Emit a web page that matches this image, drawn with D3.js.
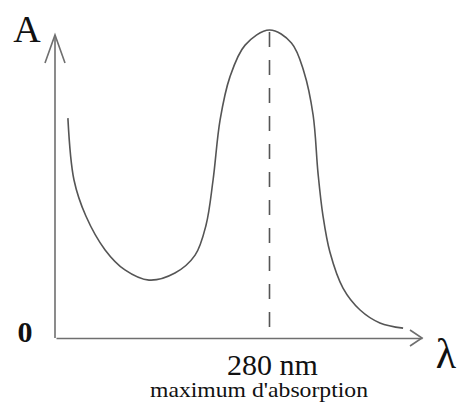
<!DOCTYPE html>
<html>
<head>
<meta charset="utf-8">
<script src="https://cdn.jsdelivr.net/npm/d3@7"></script>
<style>
  html, body { margin: 0; padding: 0; background: #fff; }
  svg { display: block; }
  text { font-family: "Liberation Serif", "Times New Roman", "DejaVu Serif", serif; fill: #111; }
</style>
</head>
<body>
<script>
// Absorption spectrum of a protein: wavelength (nm) vs absorbance (relative)
const wavelengths = [213.9, 215.9, 219.8, 226.1, 232.6, 240.5, 249.0, 255.6, 259.2, 261.5, 263.8, 267.0, 272.0, 280, 287.2, 291.3, 294.3, 295.9, 297.5, 299.8, 304.1, 309.7, 316.2, 323.8];
const absorbance  = [0.714, 0.513, 0.396, 0.286, 0.221, 0.188, 0.211, 0.269, 0.367, 0.513, 0.708, 0.847, 0.951, 1.0, 0.958, 0.864, 0.724, 0.536, 0.399, 0.279, 0.162, 0.091, 0.049, 0.032];
const peakWavelength = [280];
const peakLabels = ["280 nm", "maximum d'absorption"];
const axisLabels = ["A", "0", "λ"];

const W = 462, H = 403;
const x = d3.scaleLinear().domain([210, 330]).range([56, 422]);
const y = d3.scaleLinear().domain([0, 1]).range([338, 30]);
const yTop = 0.984;
const serif = "'Liberation Serif', 'Times New Roman', 'DejaVu Serif', serif";

const svg = d3.select("body").append("svg").attr("width", W).attr("height", H);

const axisColor = "#6f6f6f";

// x axis (no ticks) with open arrowhead
const gx = svg.append("g")
  .attr("transform", `translate(0,${y(0)})`)
  .call(d3.axisBottom(x).tickValues([]).tickSizeOuter(0));
gx.select(".domain").attr("stroke", axisColor).attr("stroke-width", 1.6);

const xEnd = x.range()[1];
svg.append("path")
  .attr("d", `M${xEnd - 12},${y(0) - 8} L${xEnd},${y(0)} L${xEnd - 12},${y(0) + 8}`)
  .attr("fill", "none").attr("stroke", axisColor).attr("stroke-width", 1.6);

// y axis with open arrowhead
const x0 = x(210) - 1;
svg.append("line")
  .attr("x1", x0).attr("x2", x0)
  .attr("y1", y(0)).attr("y2", y(yTop))
  .attr("stroke", axisColor).attr("stroke-width", 1.6);
svg.append("path")
  .attr("d", `M${x0 - 10},${y(yTop) + 28} L${x0},${y(yTop)} L${x0 + 10},${y(yTop) + 28}`)
  .attr("fill", "none").attr("stroke", axisColor).attr("stroke-width", 1.6);

// dashed marker at the absorption maximum
svg.append("line")
  .attr("x1", x(peakWavelength[0])).attr("x2", x(peakWavelength[0]))
  .attr("y1", y(1) + 2).attr("y2", y(0))
  .attr("stroke", "#555").attr("stroke-width", 1.6)
  .attr("stroke-dasharray", "15,13");

// spectrum curve
const pts = wavelengths.map((w, i) => [w, absorbance[i]]);
const line = d3.line().x(d => x(d[0])).y(d => y(d[1])).curve(d3.curveCatmullRom.alpha(0.5));
svg.append("path")
  .datum(pts)
  .attr("d", line)
  .attr("fill", "none")
  .attr("stroke", "#555")
  .attr("stroke-width", 1.6);

// labels
svg.append("text").attr("x", 27).attr("y", 42).attr("text-anchor", "middle")
  .attr("font-family", serif).attr("font-size", 38).text(axisLabels[0]);
svg.append("text").attr("x", 25).attr("y", 342).attr("text-anchor", "middle")
  .attr("font-family", serif).attr("font-size", 30).attr("font-weight", "bold").text(axisLabels[1]);
svg.append("text").attr("x", 446).attr("y", 368).attr("text-anchor", "middle")
  .attr("font-family", serif).attr("font-size", 42).text(axisLabels[2]);

svg.append("text").attr("x", x(peakWavelength[0]) + 3).attr("y", 375).attr("text-anchor", "middle")
  .attr("font-family", serif).attr("font-size", 30).text(peakLabels[0]);
svg.append("text").attr("x", 259).attr("y", 397).attr("text-anchor", "middle")
  .attr("font-family", serif).attr("font-size", 21)
  .attr("textLength", 218).attr("lengthAdjust", "spacingAndGlyphs").text(peakLabels[1]);
</script>
</body>
</html>
